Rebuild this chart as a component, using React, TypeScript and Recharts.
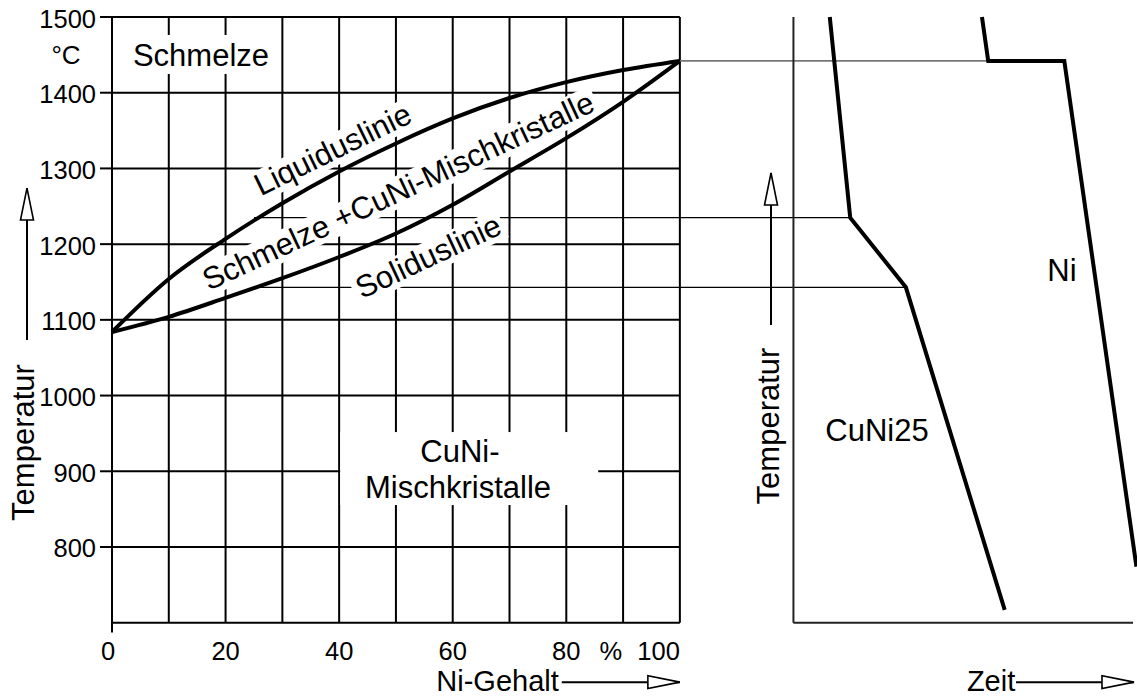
import React from 'react';
import { ComposedChart, Line, XAxis, YAxis, ReferenceLine, ReferenceDot } from 'recharts';

// ---------- data ----------
const NI_PERCENT = [0, 10, 20, 30, 40, 50, 60, 70, 80, 90, 100];
const LIQUIDUS_T = [1084, 1154, 1207, 1254, 1296, 1333, 1366, 1393, 1414, 1430, 1442];
const SOLIDUS_T = [1084, 1104, 1129, 1155, 1183, 1214, 1252, 1296, 1340, 1388, 1442];

// cooling curves (time in arbitrary units from the time-axis origin)
const CUNI25_TIME = [6.4, 10.0, 19.8, 37.2];
const CUNI25_TEMP = [1500, 1235, 1143, 717];
const NI_TIME = [33.2, 34.3, 47.7, 60.4];
const NI_TEMP = [1500, 1442, 1442, 774];

const X_TICKS = [0, 20, 40, 60, 80, 100];
const Y_TICKS = [800, 900, 1000, 1100, 1200, 1300, 1400, 1500];
const GRID_NI = [10, 20, 30, 40, 50, 60, 70, 80, 90, 100];
const GRID_T = [800, 900, 1000, 1100, 1200, 1300, 1400, 1500];

const T_MIN = 700;
const T_MAX = 1500;
const X_MAX = 180.5;
const ZEIT_ORIGIN = 120;
const ZEIT_END = 59.8;
const ALLOY_NI = 25;

// ---------- text annotations (data coordinates) ----------
const LABELS = [
  { text: 'Schmelze', x: 15.67, t: 1450.5, angle: 0, size: 31 },
  { text: '°C', x: -8.1, t: 1450.5, angle: 0, size: 26 },
  { text: 'Liquiduslinie', x: 38.83, t: 1325.7, angle: -26, size: 31 },
  { text: 'Schmelze +CuNi-Mischkristalle', x: 50.36, t: 1270.8, angle: -25, size: 31 },
  { text: 'Soliduslinie', x: 55.65, t: 1184.3, angle: -25, size: 31 },
  { text: 'CuNi-', x: 61.28, t: 926.8, angle: 0, size: 31 },
  { text: 'Mischkristalle', x: 60.93, t: 879.2, angle: 0, size: 31 },
  { text: 'Ni', x: 167.29, t: 1165.8, angle: 0, size: 31 },
  { text: 'CuNi25', x: 134.71, t: 954.5, angle: 0, size: 31 },
  { text: 'Temperatur', x: 115.52, t: 959.8, angle: -90, size: 31 },
  { text: 'Temperatur', x: -15.76, t: 938.0, angle: -90, size: 31 },
  { text: 'Ni-Gehalt', x: 67.9, t: 623.0, angle: 0, size: 29 },
  { text: 'Zeit', x: 154.8, t: 623.0, angle: 0, size: 29 },
];

// white masks behind labels that interrupt the grid
const MASKS = [
  { x: 15.5, t: 1450.5, w: 150, h: 39, angle: 0 },
  { x: 38.83, t: 1323.5, w: 178, h: 31, angle: -26 },
  { x: 50.36, t: 1268.8, w: 436, h: 31, angle: -25 },
  { x: 55.65, t: 1182.3, w: 164, h: 31, angle: -25 },
  { x: 62.9, t: 903.6, w: 258, h: 73, angle: 0 },
];

const ARROWS = [
  { from: { x: -14.97, y: 1073.4 }, to: { x: -14.97, y: 1274.1 }, dir: 'up' },
  { from: { x: 116.05, y: 1093.2 }, to: { x: 116.05, y: 1294.0 }, dir: 'up' },
  { from: { x: 79.2, y: 621.5 }, to: { x: 100, y: 621.5 }, dir: 'right' },
  { from: { x: 159.2, y: 621.5 }, to: { x: 179.97, y: 621.5 }, dir: 'right' },
];

const FONT = '"Liberation Sans", Arial, Helvetica, sans-serif';

const liquidus = NI_PERCENT.map((x, i) => ({ x, T: LIQUIDUS_T[i] }));
const solidus = NI_PERCENT.map((x, i) => ({ x, T: SOLIDUS_T[i] }));
const cuni25 = CUNI25_TIME.map((t, i) => ({ x: ZEIT_ORIGIN + t, T: CUNI25_TEMP[i] }));
const nickel = NI_TIME.map((t, i) => ({ x: ZEIT_ORIGIN + t, T: NI_TEMP[i] }));

const XTick = (props: any) => {
  const { x, y, payload } = props;
  const v = payload.value;
  const common = { fontSize: 25.5, fontFamily: FONT, fill: '#000' };
  if (v === 100) {
    return (
      <g>
        <text x={x - 69} y={y + 37.5} textAnchor="middle" {...common}>%</text>
        <text x={x} y={y + 37.5} textAnchor="end" {...common}>100</text>
      </g>
    );
  }
  return (
    <text x={v === 0 ? x - 4 : x} y={y + 37.5} textAnchor="middle" {...common}>{v}</text>
  );
};

const YTick = (props: any) => {
  const { x, y, payload } = props;
  return (
    <text x={x} y={y} dy={10.5} textAnchor="end" fontSize={25.5} fontFamily={FONT} fill="#000">
      {payload.value}
    </text>
  );
};

const textShape = (l: any) => (p: any) => {
  const { cx, cy } = p;
  return (
    <text
      x={cx}
      y={cy}
      dy={l.size * 0.358}
      textAnchor="middle"
      fontSize={l.size}
      fontFamily={FONT}
      fill="#000"
      transform={l.angle ? `rotate(${l.angle} ${cx} ${cy})` : undefined}
    >
      {l.text}
    </text>
  );
};

const maskShape = (m: any) => (p: any) => {
  const { cx, cy } = p;
  return (
    <rect
      x={cx - m.w / 2}
      y={cy - m.h / 2}
      width={m.w}
      height={m.h}
      fill="#fff"
      stroke="none"
      transform={m.angle ? `rotate(${m.angle} ${cx} ${cy})` : undefined}
    />
  );
};

const headShape = (dir: string) => (p: any) => {
  const { cx, cy } = p;
  const L = 32;
  const W = 6.5;
  const pts =
    dir === 'up'
      ? `${cx},${cy} ${cx - W},${cy + L} ${cx + W},${cy + L}`
      : `${cx},${cy} ${cx - L},${cy - W} ${cx - L},${cy + W}`;
  return <polygon points={pts} fill="#fff" stroke="#000" strokeWidth={1.6} strokeLinejoin="miter" />;
};

export default function App() {
  return (
    <div
      style={{
        position: 'absolute',
        left: 0,
        top: 0,
        width: 1137,
        height: 698,
        overflow: 'hidden',
        background: '#fff',
      }}
    >
      <ComposedChart width={1137} height={698} margin={{ top: 17, right: 0, bottom: 0, left: 0 }}>
        <XAxis
          type="number"
          dataKey="x"
          domain={[0, X_MAX]}
          ticks={X_TICKS}
          interval={0}
          axisLine={false}
          tickLine={false}
          tickSize={0}
          tickMargin={0}
          height={75.3}
          tick={XTick}
        />
        <YAxis
          type="number"
          domain={[T_MIN, T_MAX]}
          ticks={Y_TICKS}
          interval={0}
          axisLine={false}
          tickLine={{ stroke: '#000', strokeWidth: 2 }}
          tickSize={12}
          tickMargin={4}
          width={112}
          tick={YTick}
        />

        {/* grid of phase diagram */}
        {GRID_NI.map((n) => (
          <ReferenceLine
            key={`gx${n}`}
            segment={[{ x: n, y: T_MIN }, { x: n, y: T_MAX }]}
            stroke="#000"
            strokeWidth={2}
            ifOverflow="visible"
            zIndex={100}
          />
        ))}
        {GRID_T.map((t) => (
          <ReferenceLine
            key={`gy${t}`}
            segment={[{ x: 0, y: t }, { x: 100, y: t }]}
            stroke="#000"
            strokeWidth={2}
            ifOverflow="visible"
            zIndex={100}
          />
        ))}

        {/* connecting lines */}
        <ReferenceLine
          segment={[{ x: 100, y: NI_TEMP[1] }, { x: ZEIT_ORIGIN + NI_TIME[1], y: NI_TEMP[1] }]}
          stroke="#777"
          strokeWidth={1.8}
          ifOverflow="visible"
          zIndex={150}
        />
        <ReferenceLine
          segment={[{ x: ALLOY_NI, y: CUNI25_TEMP[1] }, { x: ZEIT_ORIGIN + CUNI25_TIME[1], y: CUNI25_TEMP[1] }]}
          stroke="#000"
          strokeWidth={1.3}
          ifOverflow="visible"
          zIndex={150}
        />
        <ReferenceLine
          segment={[{ x: ALLOY_NI, y: CUNI25_TEMP[2] }, { x: ZEIT_ORIGIN + CUNI25_TIME[2], y: CUNI25_TEMP[2] }]}
          stroke="#000"
          strokeWidth={1.3}
          ifOverflow="visible"
          zIndex={150}
        />

        {/* label masks */}
        {MASKS.map((m, i) => (
          <ReferenceDot key={`m${i}`} x={m.x} y={m.t} r={1} ifOverflow="visible" shape={maskShape(m)} zIndex={300} />
        ))}

        {/* axes lines */}
        <ReferenceLine segment={[{ x: 0, y: 687 }, { x: 0, y: T_MAX }]} stroke="#000" strokeWidth={2} ifOverflow="visible" zIndex={350} />
        <ReferenceLine segment={[{ x: 0, y: T_MIN }, { x: 100, y: T_MIN }]} stroke="#000" strokeWidth={2} ifOverflow="visible" zIndex={350} />
        <ReferenceLine segment={[{ x: ZEIT_ORIGIN, y: T_MIN }, { x: ZEIT_ORIGIN, y: T_MAX }]} stroke="#222" strokeWidth={2} ifOverflow="visible" zIndex={350} />
        <ReferenceLine segment={[{ x: ZEIT_ORIGIN, y: T_MIN }, { x: ZEIT_ORIGIN + ZEIT_END, y: T_MIN }]} stroke="#222" strokeWidth={2} ifOverflow="visible" zIndex={350} />

        {/* curves */}
        <Line data={liquidus} dataKey="T" type="monotone" stroke="#000" strokeWidth={4} dot={false} activeDot={false} isAnimationActive={false} zIndex={400} />
        <Line data={solidus} dataKey="T" type="monotone" stroke="#000" strokeWidth={4} dot={false} activeDot={false} isAnimationActive={false} zIndex={400} />
        <Line data={cuni25} dataKey="T" type="linear" stroke="#000" strokeWidth={4} dot={false} activeDot={false} isAnimationActive={false} zIndex={400} />
        <Line data={nickel} dataKey="T" type="linear" stroke="#000" strokeWidth={4} dot={false} activeDot={false} isAnimationActive={false} zIndex={400} />

        {/* arrows */}
        {ARROWS.map((a, i) => (
          <ReferenceLine key={`as${i}`} segment={[a.from, a.to]} stroke="#000" strokeWidth={2} ifOverflow="visible" zIndex={2100} />
        ))}
        {ARROWS.map((a, i) => (
          <ReferenceDot key={`ah${i}`} x={a.to.x} y={a.to.y} r={1} ifOverflow="visible" shape={headShape(a.dir)} zIndex={2150} />
        ))}

        {/* texts */}
        {LABELS.map((l, i) => (
          <ReferenceDot key={`l${i}`} x={l.x} y={l.t} r={1} ifOverflow="visible" shape={textShape(l)} zIndex={2200} />
        ))}
      </ComposedChart>
    </div>
  );
}
